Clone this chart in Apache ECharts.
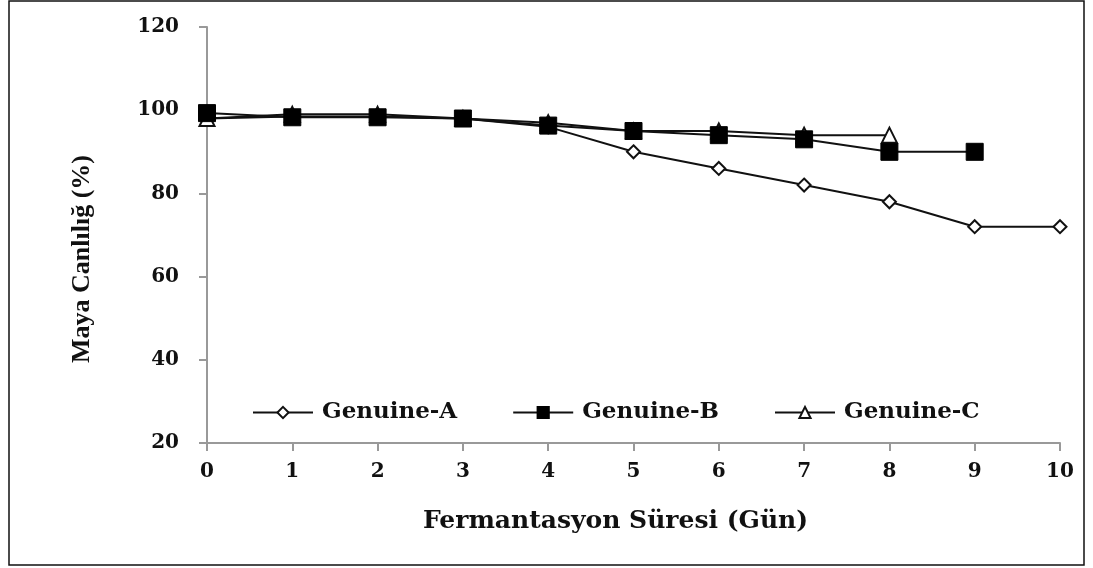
<!DOCTYPE html>
<html><head><meta charset="utf-8">
<script src="https://cdn.jsdelivr.net/npm/echarts@6/dist/echarts.min.js"></script>
<style>html,body{margin:0;padding:0;background:#fff}#c{width:1093px;height:568px}</style>
</head><body><div id="c"></div>
<script>
var days = [0,1,2,3,4,5,6,7,8,9,10];
var genuineA = [98,98.5,98.5,98,96,90,86,82,78,72,72];
var genuineB = [99.3,98.3,98.3,98,96.3,95,94,93,90,90];
var genuineC = [98,99,99,98,97,95,95,94,94];
var seriesNames = ['Genuine-A','Genuine-B','Genuine-C'];
var xTitle = 'Fermantasyon Süresi (Gün)';
var yTitle = 'Maya Canlılığ (%)';

function pairs(vals){ return vals.map(function(v,i){ return [days[i], v]; }); }
var wide = '"DejaVu Serif", serif';
var times = '"Liberation Serif", "DejaVu Serif", serif';
var chart = echarts.init(document.getElementById('c'));
var lineStyle = {color:'#111', width:2};
chart.setOption({
  animation:false,
  backgroundColor:'#fff',
  grid:{left:207, right:33, top:27, bottom:125},
  legend:{
    left:247, top:396, itemGap:55, itemWidth:60, itemHeight:14,
    textStyle:{fontFamily:wide, fontWeight:'bold', fontSize:23, color:'#111', padding:[0,0,0,4]},
    data:seriesNames
  },
  xAxis:{
    type:'value', min:0, max:10, interval:1,
    name:xTitle, nameLocation:'middle', nameGap:66,
    nameTextStyle:{fontFamily:wide, fontWeight:'bold', fontSize:25, color:'#111', padding:[0,36,0,0]},
    axisLine:{lineStyle:{color:'#999', width:2}},
    axisTick:{show:true, length:8, lineStyle:{color:'#999', width:2}},
    axisLabel:{fontFamily:wide, fontWeight:'bold', fontSize:20, color:'#111', margin:19},
    splitLine:{show:false}
  },
  yAxis:{
    type:'value', min:20, max:120, interval:20,
    axisLine:{show:true, lineStyle:{color:'#999', width:2}},
    axisTick:{show:true, length:8, lineStyle:{color:'#999', width:2}},
    axisLabel:{fontFamily:wide, fontWeight:'bold', fontSize:20, color:'#111', margin:28},
    splitLine:{show:false}
  },
  series:[
    {name:seriesNames[0], type:'line', data:pairs(genuineA), symbol:'diamond', symbolSize:13,
     lineStyle:lineStyle, itemStyle:{color:'#fff', borderColor:'#111', borderWidth:2}, z:2},
    {name:seriesNames[2], type:'line', data:pairs(genuineC), symbol:'triangle', symbolSize:15,
     lineStyle:lineStyle, itemStyle:{color:'#fff', borderColor:'#111', borderWidth:2}, z:3},
    {name:seriesNames[1], type:'line', data:pairs(genuineB), symbol:'rect', symbolSize:17,
     lineStyle:lineStyle, itemStyle:{color:'#000', borderColor:'#000', borderWidth:1}, z:4}
  ],
  graphic:[
    {type:'text', x:82, y:259, rotation:Math.PI/2, silent:true,
     style:{text:yTitle, fontFamily:times, fontWeight:'bold', fontSize:26, fill:'#111',
            align:'center', verticalAlign:'middle'}},
    {type:'rect', shape:{x:9, y:1, width:1075, height:564},
     style:{fill:null, stroke:'#111', lineWidth:1.5}, silent:true}
  ]
});
</script></body></html>
